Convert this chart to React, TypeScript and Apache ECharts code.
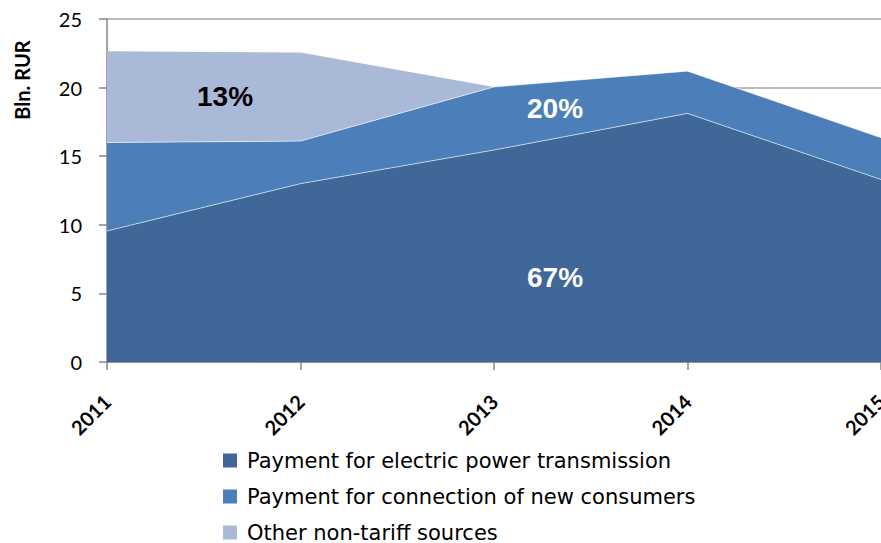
import React, { useEffect, useRef } from "react";
import * as echarts from "echarts";

const years = ["2011", "2012", "2013", "2014", "2015"];
const transmission = [9.55, 13.0, 15.45, 18.12, 13.3];
const connection = [6.45, 3.1, 4.6, 3.08, 3.05];
const other = [6.65, 6.45, 0, 0, 0];
const seriesNames = [
  "Payment for electric power transmission",
  "Payment for connection of new consumers",
  "Other non-tariff sources",
];
const colors = ["#3F6797", "#4C7FBA", "#AAB9D7"];
const shareLabels = ["67%", "20%", "13%"];

const FONT = "Lato, 'Open Sans', sans-serif";

export default function App() {
  const ref = useRef<HTMLDivElement>(null);
  useEffect(() => {
    if (!ref.current) return;
    const chart = echarts.init(ref.current, null, { renderer: "svg" });
    const data = [transmission, connection, other];
    chart.setOption({
      animation: false,
      color: colors,
      grid: {
        left: 107,
        right: 0,
        top: 19,
        bottom: 181,
        containLabel: false,
        outerBoundsMode: "none",
      },
      xAxis: {
        type: "category",
        data: years,
        boundaryGap: false,
        axisLine: { lineStyle: { color: "#868686", width: 1.5 } },
        axisTick: { show: true, length: 8, lineStyle: { color: "#868686", width: 1.5 } },
        axisLabel: {
          rotate: 45,
          margin: 36,
          fontFamily: FONT,
          fontWeight: "bold",
          fontSize: 20,
          color: "#000",
          hideOverlap: false,
        },
      },
      yAxis: {
        type: "value",
        min: 0,
        max: 25,
        interval: 5,
        axisLine: { show: true, lineStyle: { color: "#868686", width: 1.5 } },
        axisTick: { show: true, length: 8, lineStyle: { color: "#868686", width: 1.5 } },
        splitLine: { show: true, lineStyle: { color: "#A6A6A6", width: 1.5 } },
        axisLabel: {
          margin: 25,
          fontFamily: FONT,
          fontSize: 20,
          color: "#000",
        },
      },
      legend: {
        orient: "vertical",
        left: 223,
        top: 450,
        padding: 0,
        itemWidth: 14,
        itemHeight: 14,
        itemGap: 15,
        icon: "rect",
        selectedMode: false,
        textStyle: {
          fontFamily: "'DejaVu Sans', sans-serif",
          fontSize: 21,
          lineHeight: 20,
          color: "#000",
          padding: [0, 0, 0, 5],
        },
        data: seriesNames,
      },
      series: seriesNames.map((name, i) => ({
        name,
        type: "line",
        stack: "total",
        data: data[i],
        symbol: "none",
        lineStyle: { width: i === 2 ? 0 : 0.8, color: "rgba(255,255,255,0.75)" },
        areaStyle: { color: colors[i], opacity: 1 },
        itemStyle: { color: colors[i] },
        z: 2,
      })),
      graphic: [
        {
          type: "text",
          x: 22,
          y: 80,
          rotation: Math.PI / 2,
          style: {
            text: "Bln. RUR",
            fontFamily: FONT,
            fontWeight: "bold",
            fontSize: 20,
            fill: "#000",
            align: "center",
            verticalAlign: "middle",
          },
        },
        {
          type: "text",
          x: 225,
          y: 96,
          z: 10,
          style: {
            text: shareLabels[2],
            fontFamily: "Liberation Sans, Arial, sans-serif",
            fontWeight: "bold",
            fontSize: 28,
            fill: "#000",
            align: "center",
            verticalAlign: "middle",
          },
        },
        {
          type: "text",
          x: 555,
          y: 108,
          z: 10,
          style: {
            text: shareLabels[1],
            fontFamily: "Liberation Sans, Arial, sans-serif",
            fontWeight: "bold",
            fontSize: 28,
            fill: "#fff",
            align: "center",
            verticalAlign: "middle",
          },
        },
        {
          type: "text",
          x: 555,
          y: 277,
          z: 10,
          style: {
            text: shareLabels[0],
            fontFamily: "Liberation Sans, Arial, sans-serif",
            fontWeight: "bold",
            fontSize: 28,
            fill: "#fff",
            align: "center",
            verticalAlign: "middle",
          },
        },
      ],
    });
    return () => chart.dispose();
  }, []);
  return (
    <div
      ref={ref}
      style={{ position: "fixed", left: 0, top: 0, width: 881, height: 543, background: "#fff" }}
    />
  );
}
